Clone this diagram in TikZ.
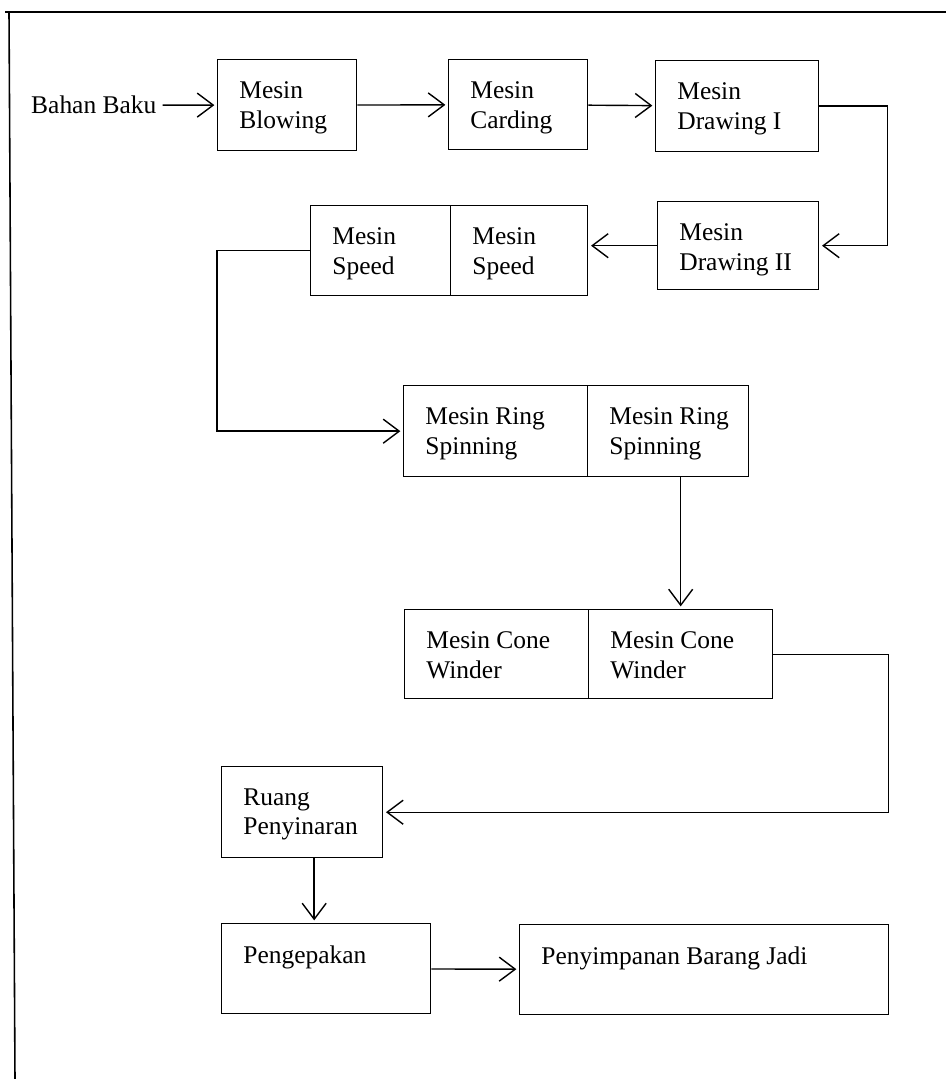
\documentclass[tikz,border=0pt]{standalone}
\usepackage{fontspec}
\setmainfont{Liberation Serif}
\usetikzlibrary{arrows.meta}
\begin{document}
\begin{tikzpicture}[x=0.02cm,y=-0.02cm,
  box/.style={draw,line width=0.8pt,anchor=north west,inner sep=0pt},
  txt/.style={anchor=north west,align=left,inner sep=0pt,font=\fontsize{14.5}{17}\selectfont},
  arr/.style={line width=0.8pt,-{Straight Barb[length=3.2mm,width=4.8mm]},shorten >=1.5pt}]
\useasboundingbox (0,0) rectangle (946,1079);
\draw[line width=0.9pt] (5,12) -- (946,12);
\draw[line width=0.9pt] (9,12) -- (15,1079);

\node[box,minimum width=2.78cm,minimum height=1.82cm] (blowing) at (217,59) {};
\node[box,minimum width=2.78cm,minimum height=1.80cm] (carding) at (448,59) {};
\node[box,minimum width=3.26cm,minimum height=1.82cm] (drawing1) at (655,60) {};
\node[box,minimum width=3.22cm,minimum height=1.76cm] (drawing2) at (657,201) {};
\node[box,minimum width=2.80cm,minimum height=1.80cm] (speed1) at (310,205) {};
\node[box,minimum width=2.74cm,minimum height=1.80cm] (speed2) at (450,205) {};
\node[box,minimum width=3.68cm,minimum height=1.82cm] (ring1) at (403,385) {};
\node[box,minimum width=3.22cm,minimum height=1.82cm] (ring2) at (587,385) {};
\node[box,minimum width=3.68cm,minimum height=1.78cm] (cone1) at (404,609) {};
\node[box,minimum width=3.68cm,minimum height=1.78cm] (cone2) at (588,609) {};
\node[box,minimum width=3.22cm,minimum height=1.82cm] (ruang) at (221,766) {};
\node[box,minimum width=4.18cm,minimum height=1.80cm] (pengepakan) at (221,923) {};
\node[box,minimum width=7.38cm,minimum height=1.80cm] (penyimpanan) at (519,924) {};

\node[txt] (blowingT) at ([shift={(22,22)}]blowing.north west) {Mesin\\Blowing};
\node[txt] (cardingT) at ([shift={(22,22)}]carding.north west) {Mesin\\Carding};
\node[txt] (drawing1T) at ([shift={(22,22)}]drawing1.north west) {Mesin\\Drawing I};
\node[txt] (drawing2T) at ([shift={(22,22)}]drawing2.north west) {Mesin\\Drawing II};
\node[txt] (speed1T) at ([shift={(22,22)}]speed1.north west) {Mesin\\Speed};
\node[txt] (speed2T) at ([shift={(22,22)}]speed2.north west) {Mesin\\Speed};
\node[txt] (ring1T) at ([shift={(22,22)}]ring1.north west) {Mesin Ring\\Spinning};
\node[txt] (ring2T) at ([shift={(22,22)}]ring2.north west) {Mesin Ring\\Spinning};
\node[txt] (cone1T) at ([shift={(22,22)}]cone1.north west) {Mesin Cone\\Winder};
\node[txt] (cone2T) at ([shift={(22,22)}]cone2.north west) {Mesin Cone\\Winder};
\node[txt] (ruangT) at ([shift={(22,22)}]ruang.north west) {Ruang\\Penyinaran};
\node[txt] (pengepakanT) at ([shift={(22,22)}]pengepakan.north west) {Pengepakan};
\node[txt] (penyimpananT) at ([shift={(22,22)}]penyimpanan.north west) {Penyimpanan Barang Jadi};
\node[anchor=west,font=\fontsize{14.5}{17}\selectfont] (bahan) at (25,105) {Bahan Baku};

\draw[arr] (bahan) -- (blowing);
\draw[arr] (blowing) -- (carding);
\draw[arr] (carding) -- (drawing1);
\draw[arr] (drawing1.east) -- ++(68,0) |- (drawing2.east);
\draw[arr] (drawing2.west) -- (drawing2.west -| speed2.east);
\draw[arr] (speed1.west) -- ++(-93,0) |- (ring1.west);
\draw[arr] (ring2.south -| cone2.north) -- (cone2.north);
\draw[arr] (cone2.east) -- ++(115,0) |- (ruang.east);
\draw[arr] ([shift={(12,0)}]ruang.south) -- ([shift={(12,0)}]ruang.south |- pengepakan.north);
\draw[arr] (pengepakan) -- (penyimpanan);
\end{tikzpicture}
\end{document}
